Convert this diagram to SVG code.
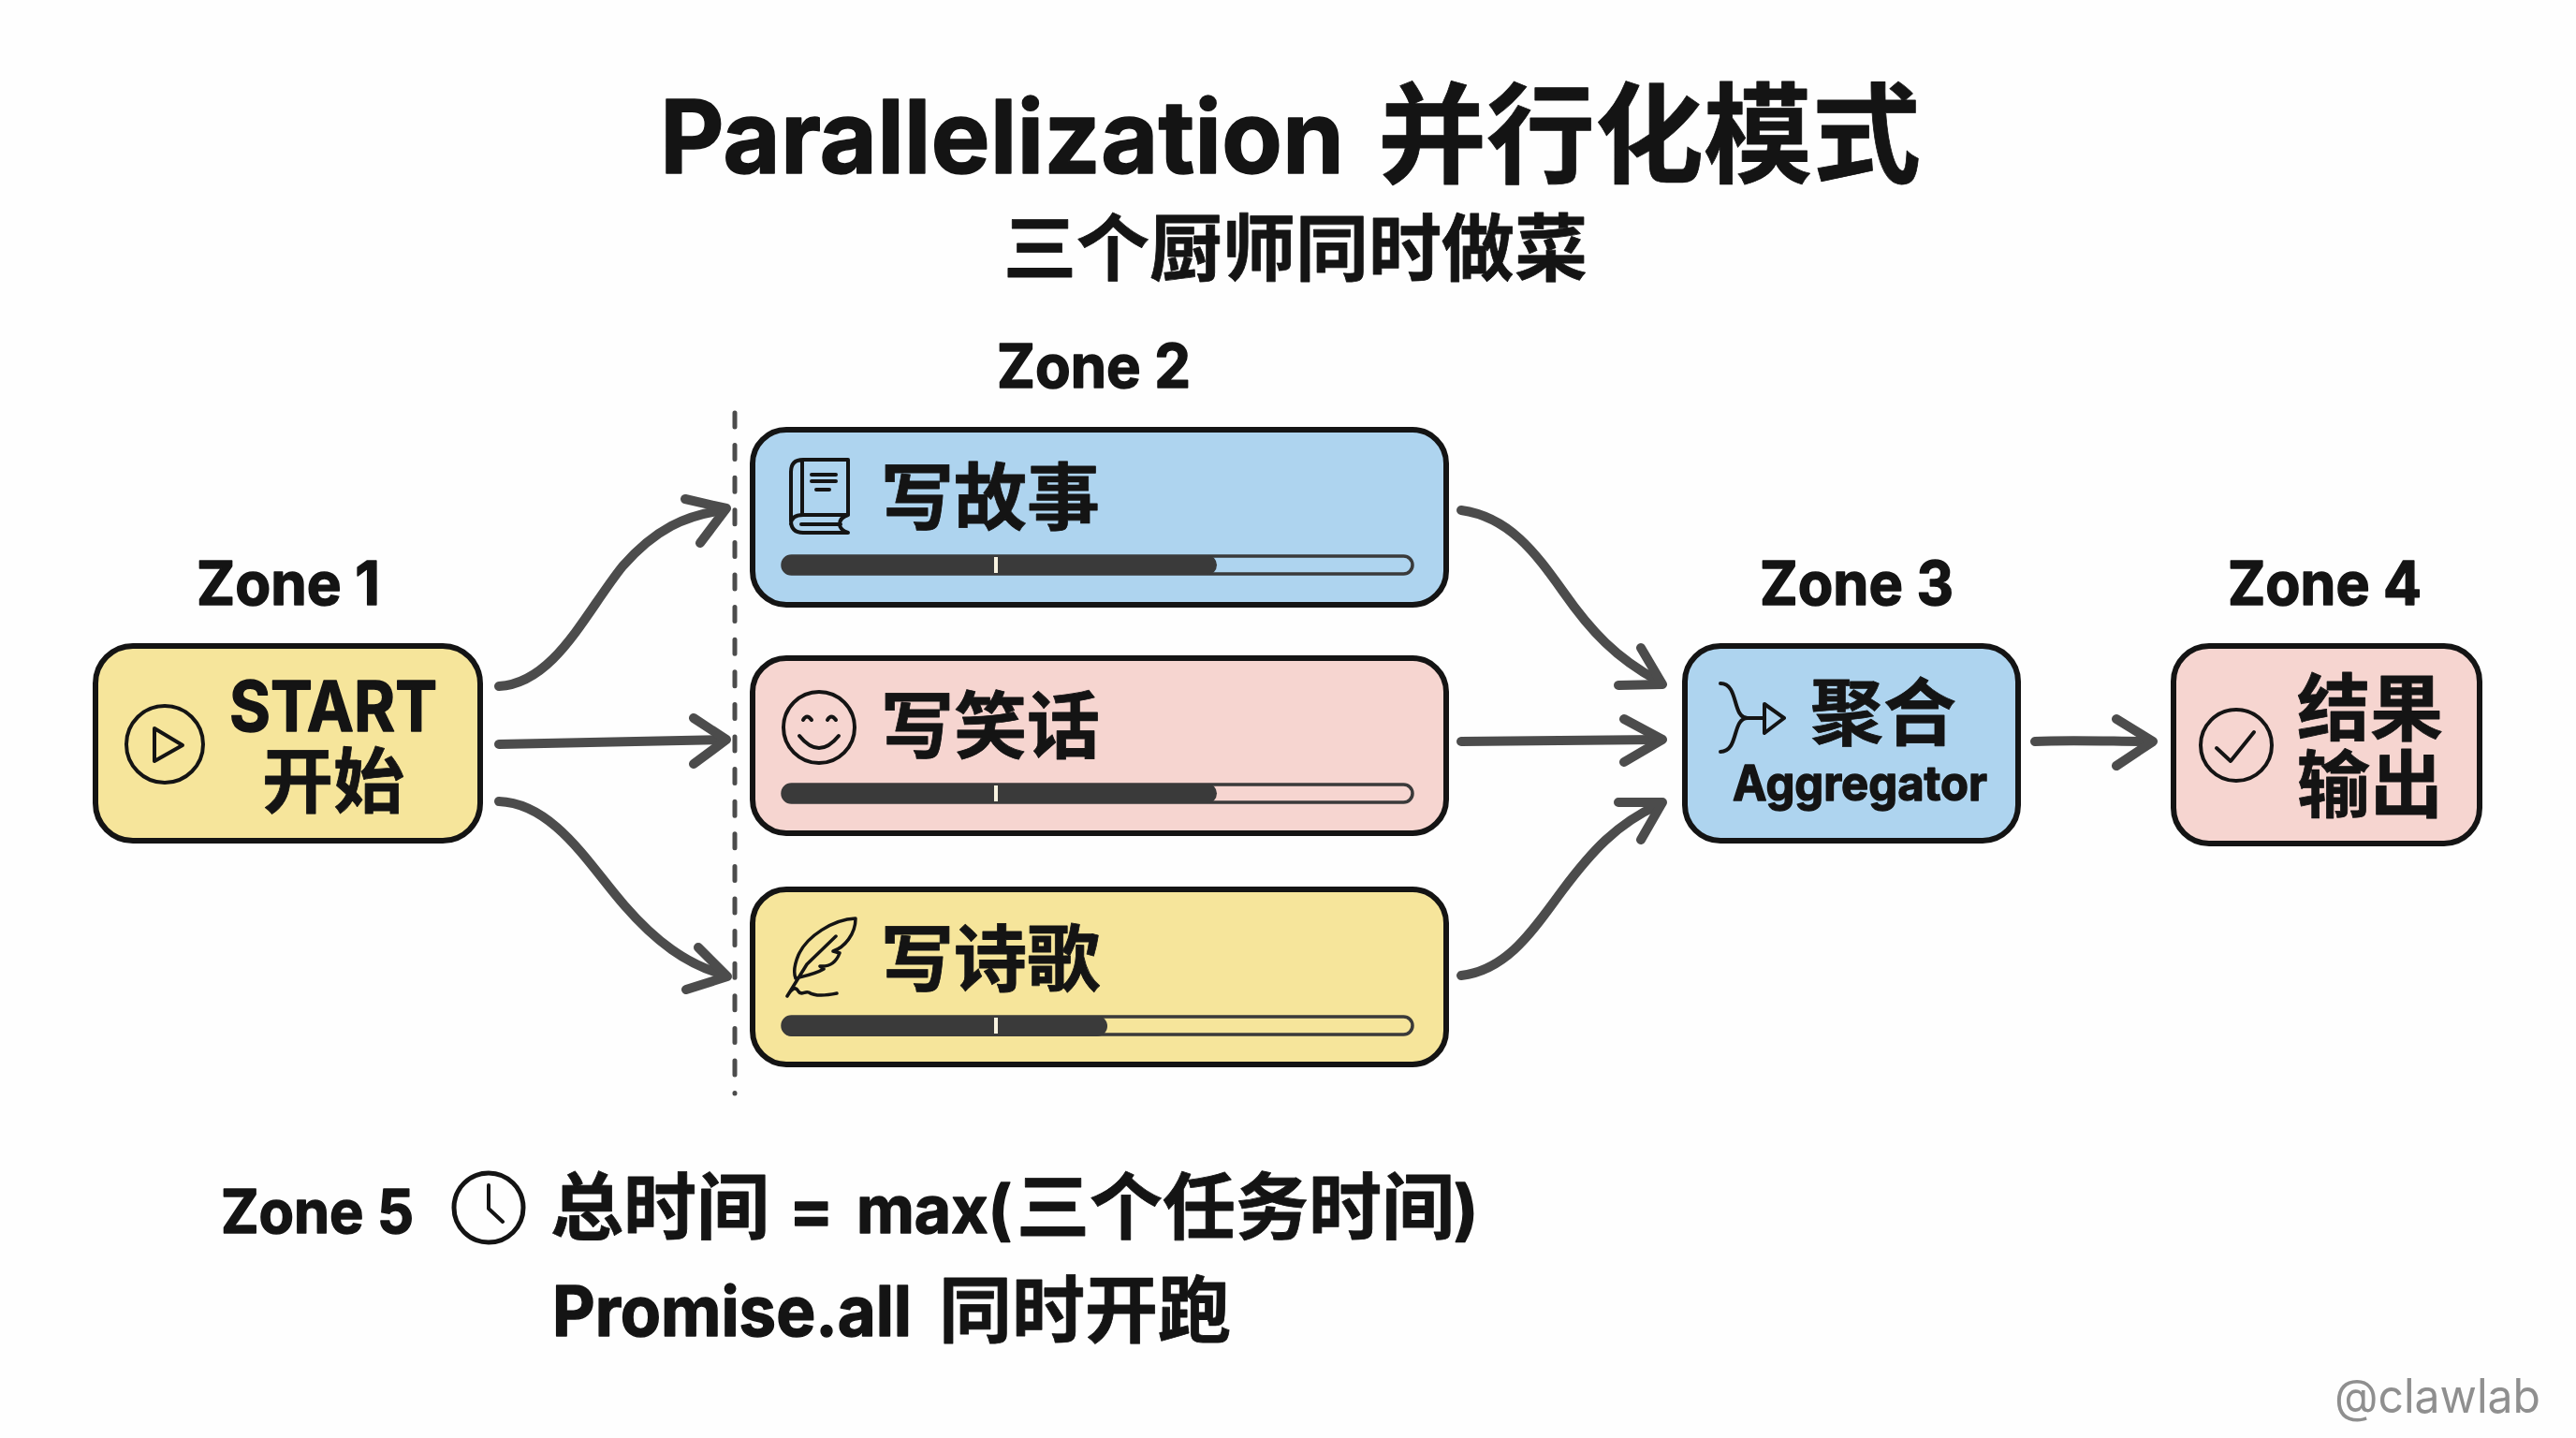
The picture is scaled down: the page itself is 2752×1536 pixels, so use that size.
<svg xmlns="http://www.w3.org/2000/svg" width="2752" height="1536" viewBox="0 0 2752 1536">
<style>
.t{font-family:"Inter","Noto Sans CJK SC","Noto Sans",sans-serif;font-weight:700;fill:#141414;stroke:#141414;stroke-width:1.5;stroke-linejoin:round}
.c{font-family:"Noto Sans CJK SC",sans-serif;font-weight:700;fill:#141414;stroke:#141414;stroke-width:.8;stroke-linejoin:round}
.m{text-anchor:middle}
.box{stroke:#141414;stroke-width:6}
.y{fill:#f6e59b}.b{fill:#aed4ef}.p{fill:#f6d5d0}
.ic{fill:none;stroke:#141414;stroke-width:4;stroke-linecap:round;stroke-linejoin:round}
.ln{fill:none;stroke:#4c4c4c;stroke-width:10;stroke-linecap:round;stroke-linejoin:round}
.track{stroke:#3a3a3a;stroke-width:3.5}
.fill{fill:#3a3a3a}
.tick{fill:#f8f3e0}
</style>
<rect width="2752" height="1536" fill="#fefefe"/>
<g id="title">
<text class="t" x="705" y="185" font-size="108" textLength="731" lengthAdjust="spacingAndGlyphs">Parallelization</text>
<text class="c" x="1472" y="186" font-size="116">并行化模式</text>
<text class="c" x="1072" y="294" font-size="78">三个厨师同时做菜</text>
</g>
<g id="zone-labels">
<text class="t" x="210" y="646" font-size="64" textLength="196" lengthAdjust="spacingAndGlyphs">Zone 1</text>
<text class="t" x="1065" y="414" font-size="64" textLength="207" lengthAdjust="spacingAndGlyphs">Zone 2</text>
<text class="t" x="1880" y="646" font-size="64" textLength="207" lengthAdjust="spacingAndGlyphs">Zone 3</text>
<text class="t" x="2380" y="646" font-size="64" textLength="207" lengthAdjust="spacingAndGlyphs">Zone 4</text>
<text class="t" x="236" y="1317" font-size="64" textLength="206" lengthAdjust="spacingAndGlyphs">Zone 5</text>
</g>
<g id="connectors">
<line x1="785" y1="441" x2="785" y2="1168" stroke="#4c4c4c" stroke-width="5" stroke-linecap="round" stroke-dasharray="15 19.6"/>
<path class="ln" d="M533,733 C592,730 625,655 665,605 C700,565 733,550 773,545"/>
<path class="ln" d="M732,533 L776,543 L748,580"/>
<path class="ln" d="M533,795 C610,793 690,791 773,790"/>
<path class="ln" d="M741,767 L776,790 L741,816"/>
<path class="ln" d="M533,856 C592,858 630,925 667,967 C700,1005 733,1030 773,1041"/>
<path class="ln" d="M746,1012 L777,1043 L733,1057"/>
<path class="ln" d="M1561,545 C1612,552 1640,590 1670,632 C1700,675 1727,703 1771,727"/>
<path class="ln" d="M1753,692 L1776,731 L1729,732"/>
<path class="ln" d="M1561,792 L1771,790"/>
<path class="ln" d="M1735,768 L1776,790 L1735,814"/>
<path class="ln" d="M1561,1042 C1612,1036 1640,990 1670,950 C1700,910 1727,880 1771,860"/>
<path class="ln" d="M1729,857 L1776,857 L1753,897"/>
<path class="ln" d="M2174,792 C2210,790 2260,792 2296,792"/>
<path class="ln" d="M2261,768 L2300,792 L2261,818"/>
</g>
<g id="start">
<rect class="box y" x="102" y="690" width="411" height="208" rx="40"/>
<circle class="ic" cx="176" cy="795" r="41"/>
<path class="ic" d="M165,778 L195,796 L165,813 Z"/>
<text class="t" x="245" y="781" font-size="74" textLength="222" lengthAdjust="spacingAndGlyphs">START</text>
<text class="c m" x="356" y="862" font-size="76">开始</text>
</g>
<g id="task-story">
<rect class="box b" x="804" y="459" width="741" height="187" rx="36"/>
<path class="ic" d="M906,550 V491 H858 Q845,491 845,504 V556 Q845,569 858,569 H906 Q897,566 897,560 Q897,553 906,550 H858 Q845,550 845,560 M857,492 V550 M856,560 H898"/>
<path class="ic" d="M867,507 H893 M867,514 H893 M872,523 H886"/>
<text class="c" x="941" y="560" font-size="78">写故事</text>
<rect class="track" x="836" y="594" width="673" height="19" rx="9.5" fill="none"/>
<rect class="fill" x="835" y="593" width="465" height="21" rx="10.5"/>
<rect class="tick" x="1062" y="595" width="4" height="17"/>
</g>
<g id="task-joke">
<rect class="box p" x="804" y="703" width="741" height="187" rx="36"/>
<circle class="ic" cx="875" cy="777" r="38"/>
<path class="ic" d="M858,769 Q862,762 867,769 M884,769 Q888,762 893,769 M854,786 Q875,812 896,786"/>
<text class="c" x="941" y="804" font-size="78">写笑话</text>
<rect class="track" x="836" y="838" width="673" height="19" rx="9.5" fill="none"/>
<rect class="fill" x="835" y="837" width="465" height="21" rx="10.5"/>
<rect class="tick" x="1062" y="839" width="4" height="17"/>
</g>
<g id="task-poem">
<rect class="box y" x="804" y="950" width="741" height="187" rx="36"/>
<path class="ic" style="stroke-width:3.5" d="M914,981 C890,982 862,1000 853,1020 C848,1032 848,1040 850,1045 C862,1042 872,1040 880,1035 L876,1032 C888,1033 894,1026 897,1018 L890,1016 C902,1012 914,998 914,981 Z M893,1000 L862,1030 L841,1064 C846,1056 850,1053 853,1059 C856,1064 860,1058 864,1060 C870,1064 880,1064 894,1061"/>
<text class="c" x="941" y="1053" font-size="78">写诗歌</text>
<rect class="track" x="836" y="1086" width="673" height="19" rx="9.5" fill="none"/>
<rect class="fill" x="835" y="1085" width="348" height="22" rx="11"/>
<rect class="tick" x="1062" y="1087" width="4" height="17"/>
</g>
<g id="aggregator">
<rect class="box b" x="1800" y="690" width="356" height="208" rx="38"/>
<path class="ic" d="M1838,730 C1858,730 1850,767 1867,767 C1850,767 1858,803 1838,803 M1867,767 H1885 M1885,752 L1906,767 L1885,783 Z"/>
<text class="c" x="1934" y="790" font-size="78">聚合</text>
<text class="t" x="1851" y="855" font-size="52" textLength="272" lengthAdjust="spacingAndGlyphs">Aggregator</text>
</g>
<g id="output">
<rect class="box p" x="2322" y="690" width="327" height="211" rx="38"/>
<circle class="ic" cx="2389" cy="796" r="38"/>
<path class="ic" d="M2368,799 L2383,813 L2408,782"/>
<text class="c" x="2454" y="785" font-size="78">结果</text>
<text class="c" x="2454" y="867" font-size="78">输出</text>
</g>
<g id="note">
<circle class="ic" style="stroke-width:5" cx="522" cy="1290" r="37"/>
<path class="ic" d="M522,1266 V1291 L537,1305"/>
<text class="c" x="588" y="1318" font-size="78">总时间</text>
<text class="t" x="843" y="1317" font-size="70">=</text>
<text class="t" x="915" y="1317" font-size="70" textLength="166" lengthAdjust="spacingAndGlyphs">max(</text>
<text class="c" x="1086" y="1318" font-size="78">三个任务时间</text>
<text class="t" x="1553" y="1317" font-size="70">)</text>
<text class="t" x="590" y="1427" font-size="74" textLength="384" lengthAdjust="spacingAndGlyphs">Promise.all</text>
<text class="c" x="1003" y="1428" font-size="78">同时开跑</text>
</g>
<g id="watermark">
<text x="2494" y="1509" font-family="Inter,'Noto Sans',sans-serif" font-size="50" fill="#8f8f8f" textLength="220" lengthAdjust="spacingAndGlyphs">@clawlab</text>
</g>
</svg>
